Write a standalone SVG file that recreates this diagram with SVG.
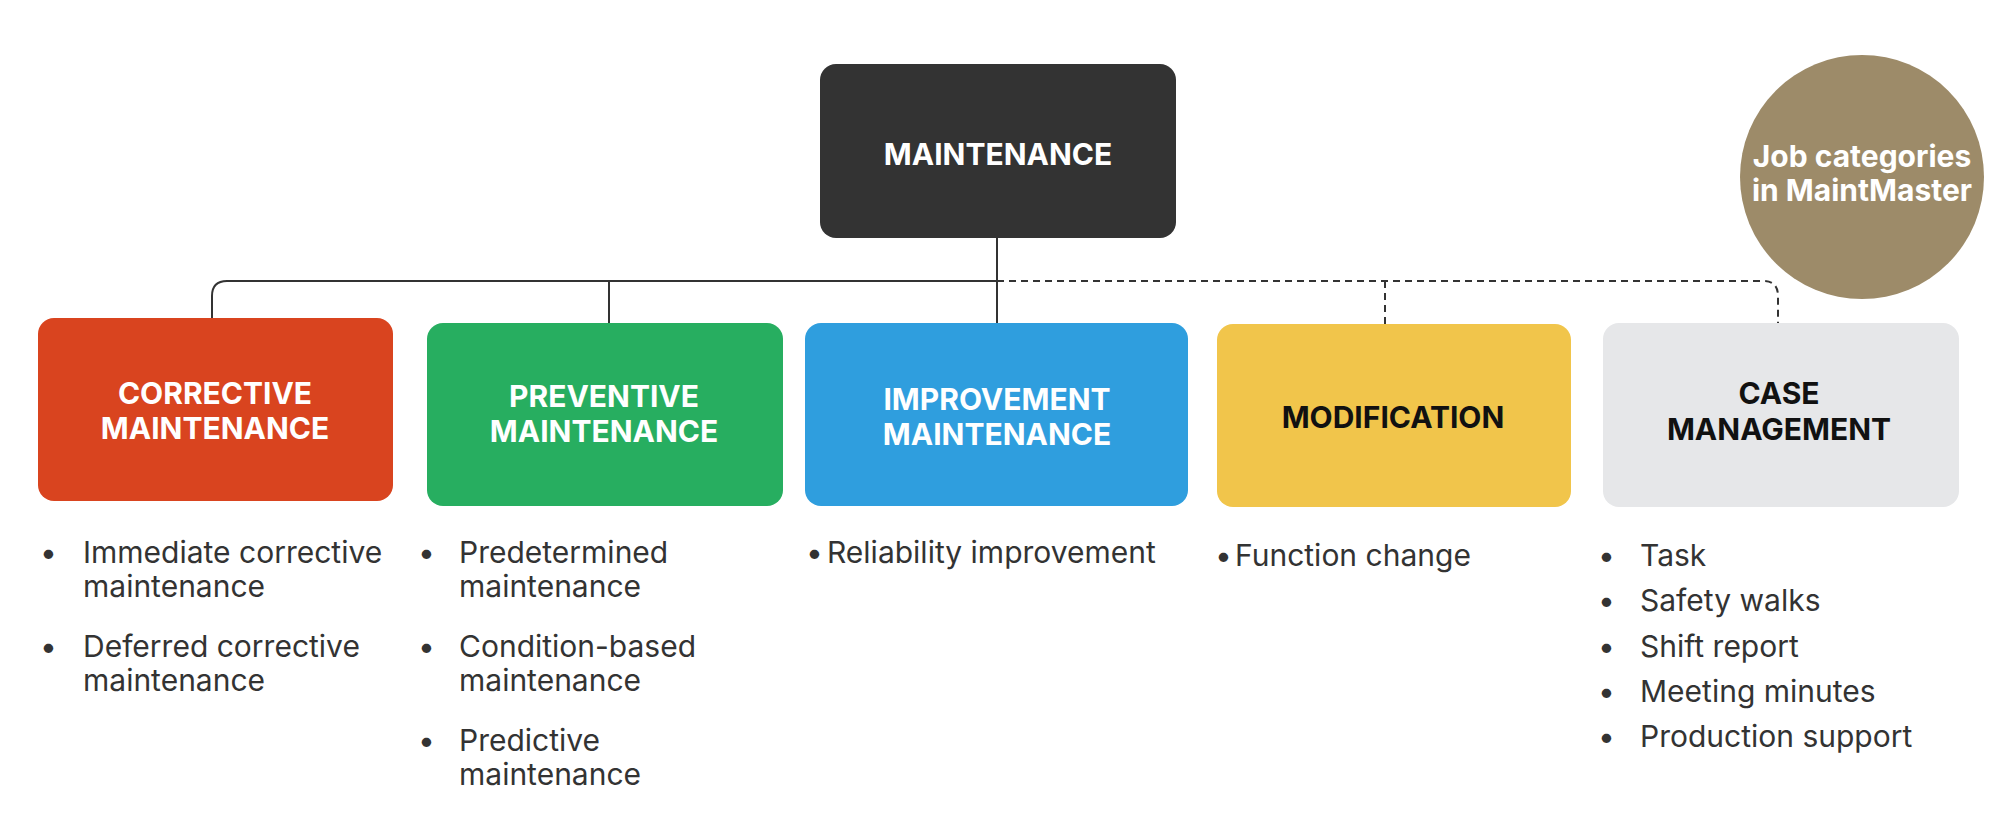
<svg xmlns="http://www.w3.org/2000/svg" width="2000" height="817" viewBox="0 0 2000 817">
<style>
.h{font-family:Inter,"Noto Sans",sans-serif;font-weight:700;font-size:30px;text-anchor:middle}
.w{fill:#fff}.k{fill:#111}
.b{font-family:Inter,"Noto Sans",sans-serif;font-size:30px;fill:#333}
.s{fill:none;stroke:#333;stroke-width:2}
.d{fill:none;stroke:#333;stroke-width:2;stroke-dasharray:7 5}
</style>
<rect width="2000" height="817" fill="#fff"/>
<g id="connectors">
<path class="s" d="M212 318V296Q212 281 227 281H997M609 281V323M997 237V323"/>
<path class="d" d="M997 281H1763Q1778 281 1778 296V323M1385 281V324"/>
</g>
<g id="maintenance"><rect x="820" y="64" width="356" height="174" rx="16" fill="#333"/><text class="h w" x="998" y="165">MAINTENANCE</text></g>
<g id="corrective"><rect x="38" y="318" width="355" height="183" rx="16" fill="#d9441f"/><text class="h w" x="215" y="404">CORRECTIVE</text><text class="h w" x="215" y="439">MAINTENANCE</text></g>
<g id="preventive"><rect x="427" y="323" width="356" height="183" rx="16" fill="#27ae60"/><text class="h w" x="604" y="407">PREVENTIVE</text><text class="h w" x="604" y="442">MAINTENANCE</text></g>
<g id="improvement"><rect x="805" y="323" width="383" height="183" rx="16" fill="#2f9ede"/><text class="h w" x="997" y="410">IMPROVEMENT</text><text class="h w" x="997" y="445">MAINTENANCE</text></g>
<g id="modification"><rect x="1217" y="324" width="354" height="183" rx="16" fill="#f1c54b"/><text class="h k" x="1393" y="428">MODIFICATION</text></g>
<g id="case"><rect x="1603" y="323" width="356" height="184" rx="16" fill="#e6e7e9"/><text class="h k" x="1779" y="404">CASE</text><text class="h k" x="1779" y="440">MANAGEMENT</text></g>
<g id="badge"><circle cx="1862" cy="177" r="122" fill="#9d8b69"/><text class="h w" x="1862" y="167" font-size="28">Job categories</text><text class="h w" x="1862" y="201" font-size="28">in MaintMaster</text></g>
<g id="lists" class="b">
<text x="40" y="563">•</text><text x="83" y="563">Immediate corrective</text><text x="83" y="597">maintenance</text>
<text x="40" y="657">•</text><text x="83" y="657">Deferred corrective</text><text x="83" y="691">maintenance</text>
<text x="418" y="563">•</text><text x="459" y="563">Predetermined</text><text x="459" y="597">maintenance</text>
<text x="418" y="657">•</text><text x="459" y="657">Condition-based</text><text x="459" y="691">maintenance</text>
<text x="418" y="751">•</text><text x="459" y="751">Predictive</text><text x="459" y="785">maintenance</text>
<text x="806" y="563">•</text><text x="827" y="563">Reliability improvement</text>
<text x="1215" y="566">•</text><text x="1235" y="566">Function change</text>
<text x="1598" y="566">•</text><text x="1640" y="566">Task</text>
<text x="1598" y="611">•</text><text x="1640" y="611">Safety walks</text>
<text x="1598" y="657">•</text><text x="1640" y="657">Shift report</text>
<text x="1598" y="702">•</text><text x="1640" y="702">Meeting minutes</text>
<text x="1598" y="747">•</text><text x="1640" y="747">Production support</text>
</g>
</svg>
